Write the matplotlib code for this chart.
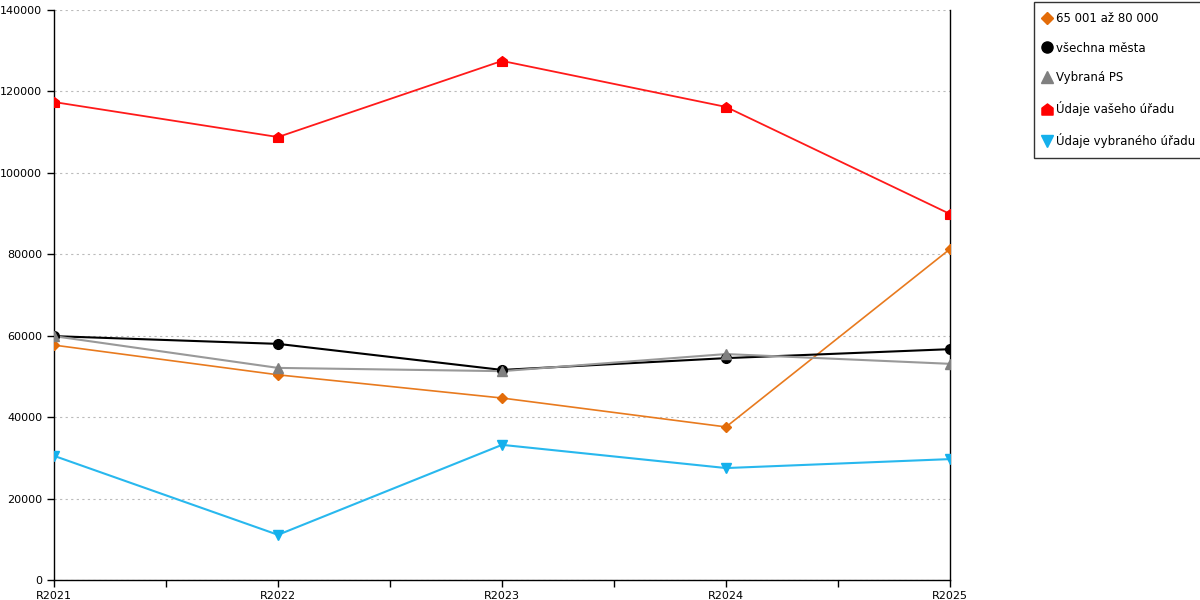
import numpy as np
import matplotlib.pyplot as plt
from matplotlib.path import Path

years = ['R2021', 'R2022', 'R2023', 'R2024', 'R2025']
s_65k = [57700, 50400, 44700, 37600, 81300]
s_mesta = [59900, 58000, 51600, 54500, 56700]
s_ps = [59900, 52100, 51300, 55500, 53100]
s_vas = [117400, 108800, 127500, 116200, 89900]
s_vybr = [30500, 11100, 33200, 27500, 29700]

labels = ['65 001 až 80 000', 'všechna města', 'Vybraná PS',
          'Údaje vašeho úřadu', 'Údaje vybraného úřadu']
colors = ['#E36C09', '#000000', '#808080', '#FF0000', '#14B0EC']
line_colors = ['#E87A1E', '#000000', '#999999', '#FF1A1A', '#28B8EE']

# house shaped marker for the red series
house = Path([(-1, -1), (1, -1), (1, 0.25), (0, 1), (-1, 0.25), (-1, -1)],
             [Path.MOVETO, Path.LINETO, Path.LINETO, Path.LINETO, Path.LINETO, Path.CLOSEPOLY])
markers = ['D', 'o', '^', house, 'v']
msizes = [5, 7, 7, 7, 7]
widths = [1.2, 1.5, 1.5, 1.3, 1.5]

fig = plt.figure(figsize=(12, 6), dpi=100)
ax = fig.add_axes([0.045, 0.0333, 0.7467, 0.95])

x = np.arange(len(years))
handles = []
for ys, lab, c, lc, m, ms, lw in zip([s_65k, s_mesta, s_ps, s_vas, s_vybr],
                                     labels, colors, line_colors, markers, msizes, widths):
    ax.plot(x, ys, color=lc, lw=lw, zorder=3)
    ax.plot(x, ys, ls='none', marker=m, ms=ms, mec=c, mfc=c, zorder=4)
    h, = ax.plot([], [], ls='none', marker=m, ms=ms + 1, color=c, label=lab)
    handles.append(h)

ax.set_xlim(0, 4)
ax.set_ylim(0, 140000)
ax.set_xticks(x)
ax.set_xticklabels(years)
ax.set_xticks(np.arange(0.5, 4, 1), minor=True)
ax.set_yticks(np.arange(0, 140001, 20000))
ax.tick_params(axis='both', labelsize=8, length=5, width=1, direction='out')
ax.tick_params(axis='x', which='minor', length=5, width=1)
ax.tick_params(axis='x', pad=3)
ax.grid(axis='y', ls=(0, (2, 3)), color='#BBBBBB', lw=0.8)
ax.set_axisbelow(True)
ax.spines['top'].set_visible(False)
for s in ['left', 'bottom', 'right']:
    ax.spines[s].set_linewidth(1)
    ax.spines[s].set_color('black')

leg = fig.legend(handles=handles, loc='upper left', bbox_to_anchor=(0.862, 0.997),
                 fontsize=8.5, frameon=True, fancybox=False, edgecolor='black',
                 handlelength=0.4, handletextpad=0.6, labelspacing=1.42,
                 borderpad=0.85, borderaxespad=0)
leg.get_frame().set_linewidth(1)

fig.savefig('out.png', dpi=100)
